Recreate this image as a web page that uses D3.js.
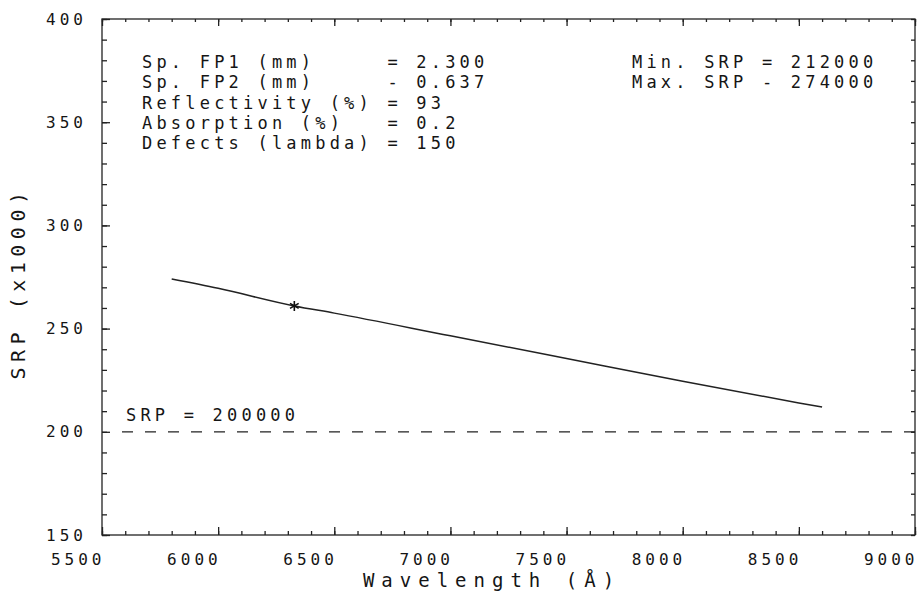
<!DOCTYPE html>
<html>
<head>
<meta charset="utf-8">
<script src="https://cdn.jsdelivr.net/npm/d3@7"></script>
<style>
  body { margin: 0; background: #fff; }
  text { font-family: "DejaVu Sans Mono", monospace; fill: #151515; }
</style>
</head>
<body>
<svg width="917" height="595"></svg>
<script>
// data
var wavelengths = [5800, 6000, 6328, 6500, 7000, 7500, 8000, 8500, 8600];
var srpValues   = [274, 269.5, 261, 257.5, 246.5, 235.5, 224.5, 214, 212];
var markWave = 6328, markSrp = 261;
var limitSrp = 200;
var xMajor = [5500, 6000, 6500, 7000, 7500, 8000, 8500, 9000];
var yMajor = [150, 200, 250, 300, 350, 400];
var infoLines = [
  "Sp. FP1 (mm)     = 2.300",
  "Sp. FP2 (mm)     - 0.637",
  "Reflectivity (%) = 93",
  "Absorption (%)   = 0.2",
  "Defects (lambda) = 150"
];
var srpLines = ["Min. SRP = 212000", "Max. SRP - 274000"];

var svg = d3.select("svg");
var pLeft = 102, pRight = 915, pTop = 19, pBottom = 535;

var x = d3.scaleLinear().domain([5500, 9000]).range([pLeft, pRight]);
var y = d3.scaleLinear().domain([150, 400]).range([pBottom, pTop]);

var xMinor = d3.range(5500, 9001, 100);
var yMinor = d3.range(150, 401, 10);

//frame
svg.append("rect")
  .attr("x", pLeft).attr("y", pTop)
  .attr("width", pRight - pLeft).attr("height", pBottom - pTop)
  .attr("fill", "none").attr("stroke", "#222").attr("stroke-width", 1.3);

function styleAxis(g) {
  g.select(".domain").remove();
  g.selectAll("line").attr("stroke", "#222").attr("stroke-width", 1.3);
}

//bottom minor + major
svg.append("g").attr("transform", "translate(0," + pBottom + ")")
  .call(d3.axisBottom(x).tickValues(xMinor).tickSize(-4).tickFormat(""))
  .call(styleAxis);
svg.append("g").attr("transform", "translate(0," + pBottom + ")")
  .call(d3.axisBottom(x).tickValues(xMajor).tickSize(-8).tickPadding(19).tickFormat(d3.format("d")))
  .call(styleAxis)
  .selectAll("text")
    .attr("text-anchor", "end")
    .attr("dx", 3)
    .style("font-size", "16px").style("letter-spacing", "4px");

//top
svg.append("g").attr("transform", "translate(0," + pTop + ")")
  .call(d3.axisTop(x).tickValues(xMinor).tickSize(-3).tickFormat(""))
  .call(styleAxis);
svg.append("g").attr("transform", "translate(0," + pTop + ")")
  .call(d3.axisTop(x).tickValues(xMajor).tickSize(-7).tickFormat(""))
  .call(styleAxis);

//left
svg.append("g").attr("transform", "translate(" + pLeft + ",0)")
  .call(d3.axisLeft(y).tickValues(yMinor).tickSize(-5).tickFormat(""))
  .call(styleAxis);
svg.append("g").attr("transform", "translate(" + pLeft + ",0)")
  .call(d3.axisLeft(y).tickValues(yMajor).tickSize(-8).tickPadding(19).tickFormat(d3.format("d")))
  .call(styleAxis)
  .selectAll("text")
    .attr("dx", 4)
    .style("font-size", "16px").style("letter-spacing", "4px");

//right
svg.append("g").attr("transform", "translate(" + pRight + ",0)")
  .call(d3.axisRight(y).tickValues(yMinor).tickSize(-4).tickFormat(""))
  .call(styleAxis);

//axis titles
svg.append("text")
  .attr("x", 492).attr("y", 587)
  .attr("text-anchor", "middle")
  .style("font-size", "19px").style("letter-spacing", "7px")
  .text("Wavelength (Å)");

svg.append("text")
  .attr("transform", "translate(25,283) rotate(-90)")
  .attr("text-anchor", "middle")
  .style("font-size", "20px").style("letter-spacing", "5.5px")
  .text("SRP (x1000)");

//limit line
svg.append("line")
  .attr("x1", x(5500) + 20).attr("x2", pRight + 2)
  .attr("y1", y(limitSrp)).attr("y2", y(limitSrp))
  .attr("stroke", "#222").attr("stroke-width", 1.3)
  .attr("stroke-dasharray", "11,12");

svg.append("text")
  .attr("x", 126).attr("y", 421)
  .style("font-size", "17px").style("letter-spacing", "4.2px")
  .text("SRP = " + (limitSrp * 1000));

//curve
var pts = wavelengths.map(function(w, i) { return [w, srpValues[i]]; });
var line = d3.line()
  .x(function(d) { return x(d[0]); })
  .y(function(d) { return y(d[1]); })
  .curve(d3.curveMonotoneX);

svg.append("path")
  .datum(pts)
  .attr("d", line)
  .attr("fill", "none")
  .attr("stroke", "#222")
  .attr("stroke-width", 1.5);

svg.append("path")
  .attr("transform", "translate(" + x(markWave) + "," + y(markSrp) + ")")
  .attr("d", d3.symbol(d3.symbolAsterisk, 70)())
  .attr("fill", "none")
  .attr("stroke", "#111")
  .attr("stroke-width", 1.6);

//info text
svg.append("g").selectAll("text")
  .data(infoLines)
  .enter().append("text")
    .attr("x", 142)
    .attr("y", function(d, i) { return 68 + i * 20.3; })
    .style("white-space", "pre")
    .style("font-size", "17px").style("letter-spacing", "4.2px")
    .text(function(d) { return d; });

svg.append("g").selectAll("text")
  .data(srpLines)
  .enter().append("text")
    .attr("x", 632)
    .attr("y", function(d, i) { return 68 + i * 20.3; })
    .style("white-space", "pre")
    .style("font-size", "17px").style("letter-spacing", "4.2px")
    .text(function(d) { return d; });
</script>
</body>
</html>
